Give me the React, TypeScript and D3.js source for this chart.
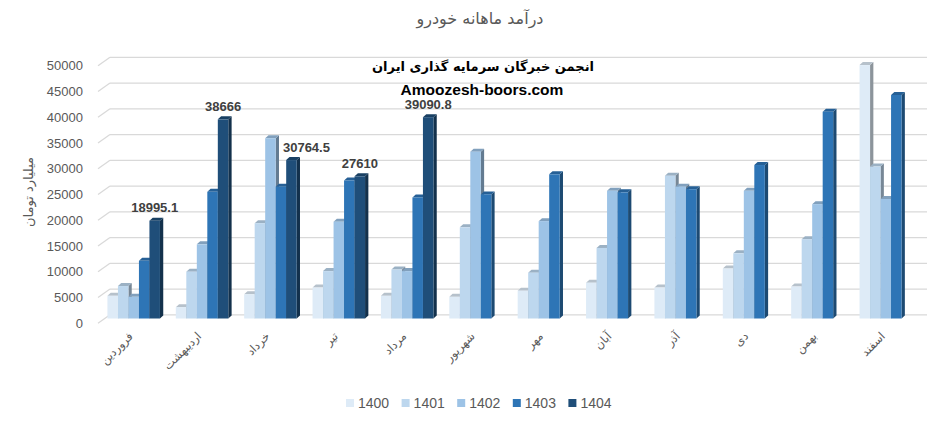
import React from 'react';
import * as d3 from 'd3';

const months = ['فروردین', 'اردیبهشت', 'خرداد', 'تیر', 'مرداد', 'شهریور', 'مهر', 'آبان', 'آذر', 'دی', 'بهمن', 'اسفند'];
const years = ['1400', '1401', '1402', '1403', '1404'];
const s1400 = [4400, 2200, 4700, 6000, 4400, 4200, 5400, 6950, 6000, 9700, 6200, 49200];
const s1401 = [6300, 9100, 18500, 9200, 9500, 17700, 8900, 13700, 27700, 12650, 15400, 29500];
const s1402 = [4200, 14400, 35000, 18800, 9200, 32400, 18900, 24800, 25600, 24800, 22200, 23200];
const s1403 = [11200, 24600, 25600, 26800, 23500, 24100, 28000, 24500, 25100, 29800, 40150, 43400];
const s1404: (number | null)[] = [18995.1, 38666, 30764.5, 27610, 39090.8, null, null, null, null, null, null, null];
const yTicks = [0, 5000, 10000, 15000, 20000, 25000, 30000, 35000, 40000, 45000, 50000];
const colors = ['#DEEBF7', '#BDD7EE', '#9DC3E6', '#2E75B6', '#1F4E79'];

const series = [s1400, s1401, s1402, s1403, s1404];

const W = 946;
const H = 423;
const DX = 3.3;
const DY = 3;
const latin = '"Liberation Sans", Arial, sans-serif';
const persian = '"DejaVu Sans", sans-serif';
const grey = '#595959';

export default function App() {
  const x0 = d3.scaleBand<string>().domain(months).range([99.5, 920]).paddingInner(0.232).paddingOuter(0.116);
  const x1 = d3.scaleBand<string>().domain(years).range([0, x0.bandwidth()]).padding(0);
  const y = d3.scaleLinear().domain([0, 50000]).range([318.5, 61]);
  const fmt = (v: number) => String(v);

  const bars: React.ReactNode[] = [];
  months.forEach((m, gi) => {
    years.forEach((yr, si) => {
      const v = series[si][gi];
      if (v == null) return;
      const c = colors[si];
      const bx = (x0(m) as number) + (x1(yr) as number);
      const bw = x1.bandwidth();
      const top = y(v);
      const base = y(0);
      const topCol = d3.color(c)!.darker(0.55).toString();
      const sideCol = d3.color(c)!.darker(1.3).toString();
      bars.push(
        <g key={`${gi}-${si}`}>
          <polygon
            points={`${bx + bw},${top} ${bx + bw + DX},${top - DY} ${bx + bw + DX},${base - DY} ${bx + bw},${base}`}
            fill={sideCol}
          />
          <polygon
            points={`${bx},${top} ${bx + bw},${top} ${bx + bw + DX},${top - DY} ${bx + DX},${top - DY}`}
            fill={topCol}
          />
          <rect x={bx} y={top} width={bw} height={base - top} fill={c} />
        </g>
      );
    });
  });

  const labelDx = [0, 0, 15, 0, 0, 0, 0, 0, 0, 0, 0, 0];

  return (
    <svg width={W} height={H} style={{ position: 'absolute', left: 0, top: 0, background: '#fff' }}>
      <rect x={0} y={0} width={W} height={H} fill="#fff" />
      <text x={480} y={24} textAnchor="middle" fontFamily={persian} fontSize={16} fill={grey}>
        درآمد ماهانه خودرو
      </text>
      {yTicks.map((t) => (
        <g key={t}>
          <line x1={98} y1={y(t) + 4.7} x2={110} y2={y(t) - 3.7} stroke="#d9d9d9" strokeWidth={1.3} />
          <line x1={110} y1={y(t) - 3.7} x2={927} y2={y(t) - 3.7} stroke="#d9d9d9" strokeWidth={1.3} />
          <text x={83} y={y(t) + 4.7} dy="0.35em" textAnchor="end" fontFamily={latin} fontSize={13} fill={grey}>
            {t}
          </text>
        </g>
      ))}
      <text
        transform={`translate(28,192) rotate(-90)`}
        textAnchor="middle"
        dy="0.35em"
        fontFamily={persian}
        fontSize={13}
        fill={grey}
      >
        میلیارد تومان
      </text>
      {bars}
      {s1404.map((v, gi) =>
        v == null ? null : (
          <text
            key={gi}
            x={(x0(months[gi]) as number) + (x1('1404') as number) + x1.bandwidth() / 2 + labelDx[gi]}
            y={y(v) - 13}
            dy="0.35em"
            textAnchor="middle"
            fontFamily={latin}
            fontWeight="bold"
            fontSize={13}
            fill="#404040"
          >
            {fmt(v)}
          </text>
        )
      )}
      <text x={483} y={66} dy="0.35em" textAnchor="middle" fontFamily={persian} fontWeight="bold" fontSize={13} fill="#000">
        انجمن خبرگان سرمایه گذاری ایران
      </text>
      <text x={482} y={90} dy="0.35em" textAnchor="middle" fontFamily={latin} fontWeight="bold" fontSize={15.5} fill="#000">
        Amoozesh-boors.com
      </text>
      {months.map((m) => {
        const cx = (x0(m) as number) + x0.bandwidth() / 2;
        return (
          <text
            key={m}
            transform={`translate(${cx},${337}) rotate(-45)`}
            textAnchor="end"
            fontFamily={persian}
            fontSize={11.5}
            fill={grey}
          >
            {m}
          </text>
        );
      })}
      {years.map((yr, i) => {
        const lx = 346 + i * 55.6;
        return (
          <g key={yr}>
            <rect x={lx} y={399} width={8} height={8} fill={colors[i]} />
            <text x={lx + 12} y={403.5} dy="0.35em" fontFamily={latin} fontSize={14} fill={grey}>
              {yr}
            </text>
          </g>
        );
      })}
    </svg>
  );
}
